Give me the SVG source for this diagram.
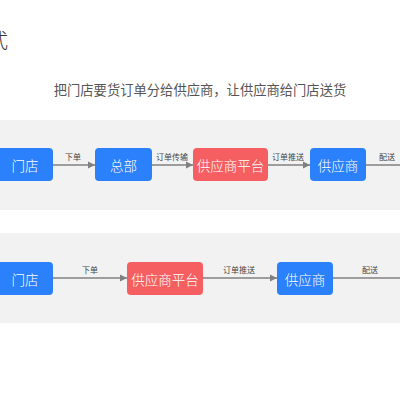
<svg xmlns="http://www.w3.org/2000/svg" width="400" height="400" viewBox="0 0 400 400">
<style>
.t{font-family:"Noto Sans CJK SC","Liberation Sans",sans-serif}
.blue{fill:#2b80fb}
.red{fill:#f65f61}
.nt{fill:#fff;font-size:13.5px;font-weight:300;text-anchor:middle;dominant-baseline:central}
.lb{fill:#444;font-size:8px;text-anchor:middle}
.ln{stroke:#808080;stroke-width:1.5;fill:none;marker-end:url(#ah)}
.ln2{stroke:#808080;stroke-width:1.5;fill:none}
</style>
<defs>
<marker id="ah" viewBox="0 0 10 10" refX="10" refY="5" markerWidth="5" markerHeight="5" orient="auto" markerUnits="strokeWidth">
<path d="M0,0 L10,5 L0,10 z" fill="#808080"/>
</marker>
</defs>
<rect width="400" height="400" fill="#fff"/>
<text class="t" x="8" y="48" font-size="20" font-weight="300" fill="#333" text-anchor="end">式</text>
<text class="t" x="200" y="95" font-size="13.3" fill="#555" text-anchor="middle">把门店要货订单分给供应商，让供应商给门店送货</text>
<rect x="0" y="120" width="400" height="90" fill="#f2f2f2"/>
<rect x="0" y="233" width="400" height="90" fill="#f2f2f2"/>
<g id="connectors">
<path class="ln" d="M53,165 H95"/>
<path class="ln" d="M152,165 H193"/>
<path class="ln" d="M268,165 H310"/>
<path class="ln2" d="M366,165 H400"/>
<path class="ln" d="M53,278 H127"/>
<path class="ln" d="M203,278 H277"/>
<path class="ln2" d="M333,278 H400"/>
<g class="t">
<text class="lb" x="73" y="160">下单</text>
<text class="lb" x="172" y="160">订单传输</text>
<text class="lb" x="288" y="160">订单推送</text>
<text class="lb" x="387" y="160">配送</text>
<text class="lb" x="90" y="273">下单</text>
<text class="lb" x="239" y="273">订单推送</text>
<text class="lb" x="370" y="273">配送</text>
</g>
</g>
<g id="r1-store"><rect class="blue" x="-4" y="148" width="57" height="33" rx="4"/><text class="t nt" x="25" y="164.5">门店</text></g>
<g id="r1-hq"><rect class="blue" x="95" y="148" width="57" height="33" rx="4"/><text class="t nt" x="123.5" y="164.5">总部</text></g>
<g id="r1-platform"><rect class="red" x="193" y="148" width="75" height="33" rx="4"/><text class="t nt" x="230.5" y="164.5">供应商平台</text></g>
<g id="r1-supplier"><rect class="blue" x="310" y="148" width="56" height="33" rx="4"/><text class="t nt" x="338" y="164.5">供应商</text></g>
<g id="r2-store"><rect class="blue" x="-4" y="262" width="57" height="33" rx="4"/><text class="t nt" x="25" y="278.5">门店</text></g>
<g id="r2-platform"><rect class="red" x="127" y="262" width="76" height="33" rx="4"/><text class="t nt" x="165" y="278.5">供应商平台</text></g>
<g id="r2-supplier"><rect class="blue" x="277" y="262" width="56" height="33" rx="4"/><text class="t nt" x="305" y="278.5">供应商</text></g>
</svg>
